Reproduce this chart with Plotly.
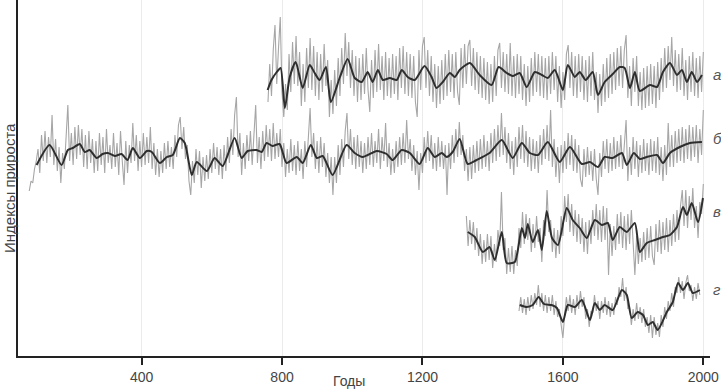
import plotly.graph_objects as go

# ---------------- data (tree-ring indices x100) ----------------
# raw chronologies: 5-year sampled values, first year given
raw_a_start = 760
raw_a = [74,112,80,126,151,92,128,159,84,59,92,66,122,84,134,92,140,90,124,70,
         112,74,128,88,138,86,130,80,124,76,122,84,132,90,116,59,96,62,106,70,
         118,80,128,92,143,100,134,88,126,80,120,74,118,76,122,82,128,86,64,116,
         78,126,84,132,86,120,76,124,80,118,78,122,82,120,76,128,88,130,82,124,
         80,122,78,120,74,59,126,86,130,139,88,126,80,120,74,112,68,110,72,116,
         76,122,80,126,84,122,78,124,84,71,128,88,132,92,130,136,90,128,86,124,
         82,120,78,118,76,114,72,112,74,120,80,126,133,88,124,84,122,82,133,80,
         120,78,122,82,120,76,112,70,110,74,118,80,124,84,122,80,120,78,118,76,
         120,82,124,86,120,74,110,68,104,76,122,131,88,124,80,120,78,122,84,120,
         76,116,74,120,80,124,76,104,63,102,70,112,74,118,78,122,82,124,86,128,
         90,130,88,126,141,78,110,70,118,84,120,70,104,66,108,68,110,70,112,72,
         110,68,114,76,118,84,128,88,130,96,139,90,126,84,122,86,128,80,116,76,
         120,84,124,80,118,78,120,84,124]

raw_b_start = 80
raw_b = [62,72,70,84,92,104,80,118,92,122,90,116,96,138,88,114,82,106,70,100,
         84,118,148,92,120,88,126,94,128,98,124,86,118,84,122,90,114,80,112,82,
         120,88,116,80,124,90,108,84,120,86,110,78,122,92,68,112,80,108,90,130,
         92,118,82,112,86,120,88,116,90,126,84,110,78,104,76,102,80,110,84,112,
         86,106,84,118,96,128,136,104,126,94,108,72,58,92,70,104,78,102,65,96,
         72,98,74,104,80,110,84,106,78,104,74,108,82,116,90,124,98,138,156,96,
         120,78,110,84,118,92,122,88,114,148,90,116,84,122,92,128,96,124,92,130,
         94,120,96,124,86,110,76,104,80,114,82,108,78,112,82,104,74,112,86,120,
         145,96,120,84,112,80,116,86,110,76,100,70,96,58,96,70,108,78,114,86,
         122,140,94,124,88,116,84,118,86,112,80,110,84,116,88,120,86,112,90,124,
         84,116,92,130,86,110,78,104,80,112,86,116,88,120,90,133,94,114,82,108,
         78,102,63,100,80,116,90,122,92,118,84,110,82,116,86,112,84,108,58,110,
         84,118,90,124,96,131,98,118,82,104,72,106,74,108,80,112,82,114,84,118,
         86,112,82,120,90,124,92,128,96,140,98,126,90,120,84,112,78,116,86,126,
         94,128,90,122,86,116,82,114,84,112,80,118,88,124,94,128,92,143,86,114,
         76,106,70,108,80,112,84,120,88,118,82,114,80,108,74,66,104,76,106,78,
         102,72,104,74,58,100,76,112,84,114,80,110,82,116,84,112,86,118,84,108,
         133,72,106,78,116,84,112,76,108,80,114,82,110,78,114,82,112,80,116,78,
         106,72,108,78,130,86,118,86,122,90,124,92,126,90,124,94,128,92,126,96,
         128,90,124,98,143]

raw_v_start = 1325
raw_v = [116,86,112,88,110,82,104,76,98,68,92,70,98,72,96,64,88,70,102,86,
         140,82,94,58,84,60,86,58,82,66,104,84,120,88,118,92,114,80,108,84,
         116,90,104,70,112,96,142,100,112,80,104,74,102,78,116,96,136,110,138,100,
         128,96,122,90,118,88,114,80,110,78,112,88,122,96,128,92,122,90,126,92,
         124,57,108,76,106,82,118,88,120,84,116,82,118,88,122,90,57,96,68,94,
         70,100,72,104,74,106,76,67,108,80,112,78,110,82,114,80,112,86,118,90,
         122,92,126,142,106,142,104,136,112,144,104,126,94,130,118,148]

raw_g_start = 1475
raw_g = [94,108,92,106,90,108,94,110,96,112,100,120,98,112,94,110,92,108,94,110,
         90,104,88,96,80,67,90,108,94,110,92,106,90,110,96,114,98,108,86,96,
         78,94,92,110,94,104,86,104,92,108,90,104,88,102,90,108,100,118,108,127,
         104,118,96,98,80,96,84,102,86,98,82,96,78,88,72,90,67,88,70,82,
         68,90,78,98,86,104,94,112,98,118,112,128,112,124,106,122,130,114,120,104,
         118,106,122,110]
raw_step = 5

# smoothed chronologies (year, value)
sm_a_years = [759,770,785,796,808,822,839,859,879,893,907,925,939,965,987,1007,1027,1044,1058,1073,
              1087,1107,1127,1141,1158,1178,1206,1226,1240,1258,1278,1292,1306,1335,1363,1397,1417,1440,1457,1477,
              1497,1520,1540,1557,1577,1600,1614,1634,1648,1665,1685,1700,1719,1742,1762,1776,1791,1805,1819,1848,
              1868,1885,1905,1925,1939,1953,1967,1982,1996]
sm_a = [86,96,104,108,68,99,114,88,111,103,96,109,74,99,117,98,94,104,94,106,
        96,98,96,106,99,96,110,99,88,94,103,99,106,113,101,91,109,103,100,103,
        89,104,101,98,106,86,111,99,104,96,104,81,94,102,109,108,88,104,85,91,
        89,104,113,101,106,94,104,94,101]

sm_b_years = [101,138,172,190,204,224,238,252,272,289,304,324,343,360,375,395,415,429,452,472,
              489,509,523,543,557,586,608,631,665,685,702,727,742,756,773,793,813,842,859,882,
              899,916,944,984,1007,1030,1070,1098,1115,1141,1164,1192,1215,1235,1255,1269,1286,1306,1329,1354,
              1391,1426,1457,1483,1506,1529,1557,1591,1620,1654,1677,1700,1719,1742,1768,1782,1802,1819,1839,1868,
              1885,1905,1933,1962,1996]
sm_b = [88,108,88,103,105,109,101,103,95,99,100,97,99,93,105,95,102,101,90,96,
        98,115,110,78,91,82,95,87,115,95,102,103,101,110,107,109,90,96,90,108,
        95,97,78,108,100,96,102,99,93,103,100,89,105,96,100,96,101,114,89,93,
        100,113,95,110,100,98,111,91,106,89,91,86,96,95,100,88,100,94,96,98,
        90,100,106,110,111]

sm_v_years = [1329,1349,1372,1391,1406,1426,1440,1463,1483,1492,1500,1514,1529,1540,1554,1569,1586,1611,1628,1648,
              1668,1691,1711,1728,1742,1762,1782,1805,1819,1839,1862,1885,1905,1925,1942,1953,1967,1985,1999]
sm_v = [100,95,80,85,72,100,69,70,104,94,108,90,102,82,121,94,87,124,112,104,
        94,112,107,109,92,105,100,109,80,89,92,95,97,105,125,117,129,110,134]

sm_g_years = [1477,1497,1514,1531,1546,1568,1583,1600,1614,1634,1654,1677,1691,1705,1719,1742,1768,1782,1796,1813,
              1828,1842,1856,1870,1896,1913,1928,1942,1956,1970,1990]
sm_g = [100,98,100,108,101,100,97,83,100,98,105,85,102,95,100,95,115,110,87,93,
        90,80,83,75,93,103,122,115,122,112,115]

series_labels = ["а", "б", "в", "г"]
series_offsets = [1.80, 1.03, 0.24, -0.49]   # vertical stacking of the chronologies
tick_years = [400, 800, 1200, 1600, 2000]
x_title = "Годы"
y_title = "Индексы прироста"

# ---------------- figure ----------------
raws = [(raw_a_start, raw_a), (raw_b_start, raw_b), (raw_v_start, raw_v), (raw_g_start, raw_g)]
smooths = [(sm_a_years, sm_a), (sm_b_years, sm_b), (sm_v_years, sm_v), (sm_g_years, sm_g)]

fig = go.Figure()
for (start, vals), off in zip(raws, series_offsets):
    yrs = [start + raw_step * i for i in range(len(vals))]
    fig.add_trace(go.Scatter(x=yrs, y=[v / 100 + off for v in vals], mode="lines",
                             line=dict(color="#a6a6a6", width=1.1), hoverinfo="skip"))
for (yrs, vals), off in zip(smooths, series_offsets):
    fig.add_trace(go.Scatter(x=yrs, y=[v / 100 + off for v in vals], mode="lines",
                             line=dict(color="#2e2e2e", width=2, shape="spline", smoothing=0.6)))

label_y = [2.82, 2.18, 1.45, 0.67]
for lab, ly in zip(series_labels, label_y):
    fig.add_annotation(x=1.0015, xref="paper", y=ly, yref="y", text="<i>" + lab + "</i>",
                       showarrow=False, xanchor="left", yanchor="middle",
                       font=dict(family="Liberation Sans, Arial", size=15, color="#555"))

fig.add_annotation(x=-0.0125, xref="paper", y=0.473, yref="paper", text=y_title, textangle=-90,
                   showarrow=False, xanchor="center", yanchor="middle",
                   font=dict(family="Liberation Sans, Arial", size=15, color="#444"))
fig.add_annotation(x=0.478, xref="paper", y=-0.071, yref="paper", text=x_title,
                   showarrow=False, xanchor="center", yanchor="middle",
                   font=dict(family="Liberation Sans, Arial", size=14, color="#444"))

fig.update_layout(
    width=721, height=390,
    margin=dict(l=18, r=11, t=0, b=34),
    paper_bgcolor="white", plot_bgcolor="white",
    showlegend=False,
    font=dict(family="Liberation Sans, Arial", size=13, color="#333"),
)
fig.update_xaxes(range=[48, 2019], tickvals=tick_years, ticktext=[str(t) for t in tick_years],
                 showgrid=True, gridcolor="#ebebeb", gridwidth=1, zeroline=False,
                 showline=True, linecolor="#222", linewidth=1.5,
                 ticks="outside", ticklen=7, tickwidth=1.5, tickcolor="#222",
                 tickfont=dict(size=14, color="#444"))
fig.update_yaxes(range=[0, 3.56], showgrid=False, zeroline=False, showticklabels=False,
                 showline=True, linecolor="#222", linewidth=1.5, ticks="")

fig.write_html("out.html", config={"displayModeBar": False},
               post_script="document.body.style.margin='0';document.body.style.overflow='hidden';")
